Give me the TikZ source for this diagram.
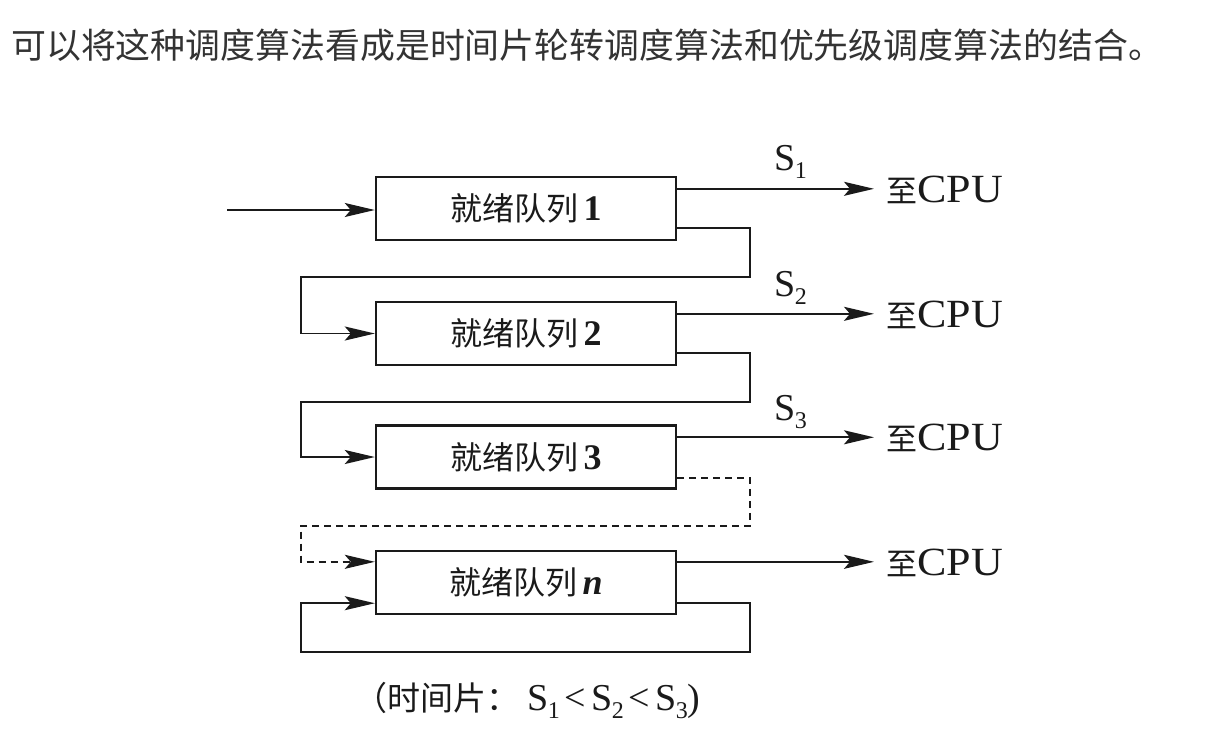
\documentclass[tikz,border=0pt]{standalone}
\usepackage{fontspec}
\newfontfamily\cjk{Noto Sans CJK SC}
\newfontfamily\lat{Liberation Serif}
\newfontfamily\widelat[FakeStretch=1.1]{Liberation Serif}
\usetikzlibrary{arrows.meta,calc}
\definecolor{bodytext}{HTML}{333333}
\definecolor{ink}{HTML}{1A1A1A}
% S with a lowered subscript, as in the time-slice labels
\newcommand\Ssub[1]{S\kern-0.5pt\raisebox{-8pt}{\fontsize{24}{24}\selectfont #1}}
\begin{document}
\begin{tikzpicture}[x=1pt,y=-1pt,
  queue/.style={draw=ink, line width=2.4pt, minimum width=300pt, minimum height=63pt,
    inner sep=0pt, text=ink, font=\cjk\fontsize{32}{32}\selectfont},
  flow/.style={draw=ink, line width=1.8pt, -{Stealth[length=30pt,width=14pt,inset=6pt]}},
  cpu/.style={anchor=west, inner sep=0pt, text=ink},
  slabel/.style={anchor=base west, inner sep=0pt, text=ink, font=\lat\fontsize{38}{38}\selectfont}]
\useasboundingbox (0,0) rectangle (1230,740);
\fill[white] (0,0) rectangle (1230,740);

% heading line
\node[anchor=west, inner sep=0pt, text=bodytext, font=\cjk\fontsize{34.9}{40}\selectfont]
  (head) at (11,45) {可以将这种调度算法看成是时间片轮转调度算法和优先级调度算法的结合。};

% ready queues
\node[queue] (q1) at (526,208.5) {就绪队列\,{\lat\fontsize{36}{36}\selectfont\bfseries 1}};
\node[queue] (q2) at (526,333.5) {就绪队列\,{\lat\fontsize{36}{36}\selectfont\bfseries 2}};
\node[queue] (q3) at (526,457)   {就绪队列\,{\lat\fontsize{36}{36}\selectfont\bfseries 3}};
\node[queue] (qn) at (526,582.5) {就绪队列\,{\lat\fontsize{36}{36}\selectfont\bfseries\itshape n}};

% destinations
\newcommand\tocpu{{\cjk\fontsize{31}{31}\selectfont 至}{\widelat\fontsize{40}{40}\selectfont CPU}}
\node[cpu] (c1) at (886,190) {\tocpu};
\node[cpu] (c2) at (886,315) {\tocpu};
\node[cpu] (c3) at (886,438) {\tocpu};
\node[cpu] (cn) at (886,563) {\tocpu};

% time slices
\node[slabel] (s1) at (774,170) {\Ssub{1}};
\node[slabel] (s2) at (774,296) {\Ssub{2}};
\node[slabel] (s3) at (774,420) {\Ssub{3}};

% entry
\coordinate (in) at (227,210);
\draw[flow] (in) -- (q1.west |- in);

% dispatch to CPU
\coordinate (o1) at ($(q1.north east)+(0,13)$);
\coordinate (o2) at ($(q2.north east)+(0,13)$);
\coordinate (o3) at ($(q3.north east)+(0,13)$);
\coordinate (on) at ($(qn.north east)+(0,12)$);
\draw[flow] (o1) -- ([xshift=-12pt]c1.west |- o1);
\draw[flow] (o2) -- ([xshift=-12pt]c2.west |- o2);
\draw[flow] (o3) -- ([xshift=-12pt]c3.west |- o3);
\draw[flow] (on) -- ([xshift=-12pt]cn.west |- on);

% demotion between queues
\coordinate (d1) at (750,277);
\coordinate (d2) at (750,402);
\coordinate (d3) at (750,526);
\coordinate (dn) at (750,652);
\draw[flow] ($(q1.south east)+(0,-13)$) -| (d1) -| ([xshift=-74pt]q2.west) -- (q2.west);
\draw[flow] ($(q2.south east)+(0,-13)$) -| (d2) -| ([xshift=-74pt]q3.west) -- (q3.west);
\draw[flow, dash pattern=on 7pt off 5pt] ($(q3.south east)+(0,-12)$) -| (d3)
  -| ($(qn.north west)+(-74,12)$) -- ($(qn.north west)+(0,12)$);
% last queue loops back into itself
\draw[flow] ($(qn.south east)+(0,-12)$) -| (dn) -| ($(qn.south west)+(-74,-12)$)
  -- ($(qn.south west)+(0,-12)$);

% caption
\node[anchor=west, inner sep=0pt, text=ink] (cap) at (354,700)
  {{\cjk\fontsize{33}{33}\selectfont （时间片：}\kern8pt{\lat\fontsize{38}{38}\selectfont\Ssub{1}\kern5pt<\kern5pt\Ssub{2}\kern5pt<\kern5pt\Ssub{3})}};
\end{tikzpicture}
\end{document}
